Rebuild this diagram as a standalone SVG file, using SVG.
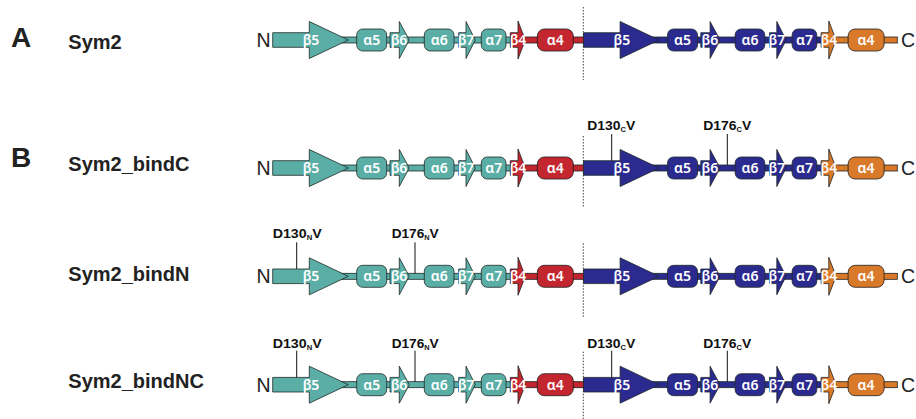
<svg xmlns="http://www.w3.org/2000/svg" width="916" height="419" viewBox="0 0 916 419">
<style>
.nh{--m:#5BAEA6;--e:#C3262E}
.ch{--m:#2B2A8E;--e:#D9792A}
.m{fill:var(--m);stroke:#1e2a2a;stroke-width:0.8}
.e{fill:var(--e);stroke:#1e1e1e;stroke-width:0.8}
.lb{font-family:"Noto Sans","Open Sans","DejaVu Sans",sans-serif;font-size:14px;font-weight:600;fill:#fff;text-anchor:middle}
.term{font-family:"Liberation Sans",Arial,sans-serif;font-size:19.5px;fill:#222}
.name{font-family:"Liberation Sans",Arial,sans-serif;font-size:20px;font-weight:bold;fill:#222}
.panel{font-family:"Liberation Sans",Arial,sans-serif;font-size:28px;font-weight:bold;fill:#222}
.mut{font-family:"Liberation Sans",Arial,sans-serif;font-size:13px;font-weight:bold;fill:#111}
.sub{font-size:7px}
.tick{stroke:#111;stroke-width:1}
.dot{stroke:#444;stroke-width:1;stroke-dasharray:1.5 1.5}
</style>

<g id="panel-labels">
<text class="panel" x="11" y="47">A</text>
<text class="panel" x="11" y="167">B</text>
</g>

<!-- Row A -->
<g id="row-sym2" transform="translate(0,40)">
<text class="name" x="68.3" y="9.3">Sym2</text>
<line class="dot" x1="583.3" y1="-33" x2="583.3" y2="40"/>
<text class="term" x="256.5" y="7">N</text>
<text class="term" x="901" y="7">C</text>
<g class="nh" id="sym2-N-half">
<rect class="m" x="330" y="-3" width="185" height="6"/>
<rect class="e" x="520" y="-3" width="64" height="6"/>
<polygon class="m" points="272.7,-7.3 309.3,-7.3 309.3,-18.5 348.3,0 309.3,18.5 309.3,7.3 272.7,7.3"/>
<rect class="m" x="356.7" y="-11" width="30" height="22" rx="6"/>
<polygon class="m" points="390,-7.3 399.3,-7.3 399.3,-18.5 409.3,0 399.3,18.5 399.3,7.3 390,7.3"/>
<rect class="m" x="424.3" y="-11" width="29.7" height="22" rx="6"/>
<polygon class="m" points="458.7,-7.3 466,-7.3 466,-18.5 475.3,0 466,18.5 466,7.3 458.7,7.3"/>
<rect class="m" x="481.3" y="-11" width="24.7" height="22" rx="6"/>
<polygon class="e" points="510.3,-7.3 518,-7.3 518,-19 525.3,0 518,19 518,7.3 510.3,7.3"/>
<rect class="e" x="537.3" y="-11" width="36" height="22" rx="7"/>
<text class="lb" x="311" y="5">β5</text><text class="lb" x="371.7" y="5">α5</text><text class="lb" x="399" y="5">β6</text><text class="lb" x="439.2" y="5">α6</text><text class="lb" x="466" y="5">β7</text><text class="lb" x="493.7" y="5">α7</text><text class="lb" x="518" y="5">β4</text><text class="lb" x="555.3" y="5">α4</text>
</g>
<g class="ch" id="sym2-C-half" transform="translate(310.8,0)">
<rect class="m" x="330" y="-3" width="185" height="6"/>
<rect class="e" x="520" y="-3" width="66.5" height="6"/>
<polygon class="m" points="272.7,-7.3 309.3,-7.3 309.3,-18.5 348.3,0 309.3,18.5 309.3,7.3 272.7,7.3"/>
<rect class="m" x="356.7" y="-11" width="30" height="22" rx="6"/>
<polygon class="m" points="390,-7.3 399.3,-7.3 399.3,-18.5 409.3,0 399.3,18.5 399.3,7.3 390,7.3"/>
<rect class="m" x="424.3" y="-11" width="29.7" height="22" rx="6"/>
<polygon class="m" points="458.7,-7.3 466,-7.3 466,-18.5 475.3,0 466,18.5 466,7.3 458.7,7.3"/>
<rect class="m" x="481.3" y="-11" width="24.7" height="22" rx="6"/>
<polygon class="e" points="510.3,-7.3 518,-7.3 518,-19 525.3,0 518,19 518,7.3 510.3,7.3"/>
<rect class="e" x="537.3" y="-11" width="36" height="22" rx="7"/>
<text class="lb" x="311" y="5">β5</text><text class="lb" x="371.7" y="5">α5</text><text class="lb" x="399" y="5">β6</text><text class="lb" x="439.2" y="5">α6</text><text class="lb" x="466" y="5">β7</text><text class="lb" x="493.7" y="5">α7</text><text class="lb" x="518" y="5">β4</text><text class="lb" x="555.3" y="5">α4</text>
</g>
</g>

<!-- Row B: bindC -->
<g id="row-bindC" transform="translate(0,168)">
<text class="name" x="68.3" y="3">Sym2_bindC</text>
<line class="dot" x1="583.3" y1="-32" x2="583.3" y2="39"/>
<text class="term" x="256.5" y="7">N</text>
<text class="term" x="901" y="7">C</text>
<g class="nh" id="bindC-N-half">
<rect class="m" x="330" y="-3" width="185" height="6"/>
<rect class="e" x="520" y="-3" width="64" height="6"/>
<polygon class="m" points="272.7,-7.3 309.3,-7.3 309.3,-18.5 348.3,0 309.3,18.5 309.3,7.3 272.7,7.3"/>
<rect class="m" x="356.7" y="-11" width="30" height="22" rx="6"/>
<polygon class="m" points="390,-7.3 399.3,-7.3 399.3,-18.5 409.3,0 399.3,18.5 399.3,7.3 390,7.3"/>
<rect class="m" x="424.3" y="-11" width="29.7" height="22" rx="6"/>
<polygon class="m" points="458.7,-7.3 466,-7.3 466,-18.5 475.3,0 466,18.5 466,7.3 458.7,7.3"/>
<rect class="m" x="481.3" y="-11" width="24.7" height="22" rx="6"/>
<polygon class="e" points="510.3,-7.3 518,-7.3 518,-19 525.3,0 518,19 518,7.3 510.3,7.3"/>
<rect class="e" x="537.3" y="-11" width="36" height="22" rx="7"/>
<text class="lb" x="311" y="5">β5</text><text class="lb" x="371.7" y="5">α5</text><text class="lb" x="399" y="5">β6</text><text class="lb" x="439.2" y="5">α6</text><text class="lb" x="466" y="5">β7</text><text class="lb" x="493.7" y="5">α7</text><text class="lb" x="518" y="5">β4</text><text class="lb" x="555.3" y="5">α4</text>
</g>
<g class="ch" id="bindC-C-half" transform="translate(310.8,0)">
<rect class="m" x="330" y="-3" width="185" height="6"/>
<rect class="e" x="520" y="-3" width="66.5" height="6"/>
<polygon class="m" points="272.7,-7.3 309.3,-7.3 309.3,-18.5 348.3,0 309.3,18.5 309.3,7.3 272.7,7.3"/>
<rect class="m" x="356.7" y="-11" width="30" height="22" rx="6"/>
<polygon class="m" points="390,-7.3 399.3,-7.3 399.3,-18.5 409.3,0 399.3,18.5 399.3,7.3 390,7.3"/>
<rect class="m" x="424.3" y="-11" width="29.7" height="22" rx="6"/>
<polygon class="m" points="458.7,-7.3 466,-7.3 466,-18.5 475.3,0 466,18.5 466,7.3 458.7,7.3"/>
<rect class="m" x="481.3" y="-11" width="24.7" height="22" rx="6"/>
<polygon class="e" points="510.3,-7.3 518,-7.3 518,-19 525.3,0 518,19 518,7.3 510.3,7.3"/>
<rect class="e" x="537.3" y="-11" width="36" height="22" rx="7"/>
<text class="lb" x="311" y="5">β5</text><text class="lb" x="371.7" y="5">α5</text><text class="lb" x="399" y="5">β6</text><text class="lb" x="439.2" y="5">α6</text><text class="lb" x="466" y="5">β7</text><text class="lb" x="493.7" y="5">α7</text><text class="lb" x="518" y="5">β4</text><text class="lb" x="555.3" y="5">α4</text>
</g>
<g id="bindC-mutations">
<line class="tick" x1="611.7" y1="-34" x2="611.7" y2="-7.3"/>
<line class="tick" x1="727.3" y1="-34" x2="727.3" y2="-3"/>
<text class="mut" x="587.3" y="-38.5" textLength="48" lengthAdjust="spacingAndGlyphs">D130<tspan class="sub" dy="2">C</tspan><tspan dy="-2">V</tspan></text>
<text class="mut" x="703.3" y="-38.5" textLength="48" lengthAdjust="spacingAndGlyphs">D176<tspan class="sub" dy="2">C</tspan><tspan dy="-2">V</tspan></text>
</g>
</g>

<!-- Row C: bindN -->
<g id="row-bindN" transform="translate(0,276.3)">
<text class="name" x="68.3" y="4.7">Sym2_bindN</text>
<line class="dot" x1="583.3" y1="-33" x2="583.3" y2="40.5"/>
<text class="term" x="256.5" y="7">N</text>
<text class="term" x="901" y="7">C</text>
<g class="nh" id="bindN-N-half">
<rect class="m" x="330" y="-3" width="185" height="6"/>
<rect class="e" x="520" y="-3" width="64" height="6"/>
<polygon class="m" points="272.7,-7.3 309.3,-7.3 309.3,-18.5 348.3,0 309.3,18.5 309.3,7.3 272.7,7.3"/>
<rect class="m" x="356.7" y="-11" width="30" height="22" rx="6"/>
<polygon class="m" points="390,-7.3 399.3,-7.3 399.3,-18.5 409.3,0 399.3,18.5 399.3,7.3 390,7.3"/>
<rect class="m" x="424.3" y="-11" width="29.7" height="22" rx="6"/>
<polygon class="m" points="458.7,-7.3 466,-7.3 466,-18.5 475.3,0 466,18.5 466,7.3 458.7,7.3"/>
<rect class="m" x="481.3" y="-11" width="24.7" height="22" rx="6"/>
<polygon class="e" points="510.3,-7.3 518,-7.3 518,-19 525.3,0 518,19 518,7.3 510.3,7.3"/>
<rect class="e" x="537.3" y="-11" width="36" height="22" rx="7"/>
<text class="lb" x="311" y="5">β5</text><text class="lb" x="371.7" y="5">α5</text><text class="lb" x="399" y="5">β6</text><text class="lb" x="439.2" y="5">α6</text><text class="lb" x="466" y="5">β7</text><text class="lb" x="493.7" y="5">α7</text><text class="lb" x="518" y="5">β4</text><text class="lb" x="555.3" y="5">α4</text>
</g>
<g class="ch" id="bindN-C-half" transform="translate(310.8,0)">
<rect class="m" x="330" y="-3" width="185" height="6"/>
<rect class="e" x="520" y="-3" width="66.5" height="6"/>
<polygon class="m" points="272.7,-7.3 309.3,-7.3 309.3,-18.5 348.3,0 309.3,18.5 309.3,7.3 272.7,7.3"/>
<rect class="m" x="356.7" y="-11" width="30" height="22" rx="6"/>
<polygon class="m" points="390,-7.3 399.3,-7.3 399.3,-18.5 409.3,0 399.3,18.5 399.3,7.3 390,7.3"/>
<rect class="m" x="424.3" y="-11" width="29.7" height="22" rx="6"/>
<polygon class="m" points="458.7,-7.3 466,-7.3 466,-18.5 475.3,0 466,18.5 466,7.3 458.7,7.3"/>
<rect class="m" x="481.3" y="-11" width="24.7" height="22" rx="6"/>
<polygon class="e" points="510.3,-7.3 518,-7.3 518,-19 525.3,0 518,19 518,7.3 510.3,7.3"/>
<rect class="e" x="537.3" y="-11" width="36" height="22" rx="7"/>
<text class="lb" x="311" y="5">β5</text><text class="lb" x="371.7" y="5">α5</text><text class="lb" x="399" y="5">β6</text><text class="lb" x="439.2" y="5">α6</text><text class="lb" x="466" y="5">β7</text><text class="lb" x="493.7" y="5">α7</text><text class="lb" x="518" y="5">β4</text><text class="lb" x="555.3" y="5">α4</text>
</g>
<g id="bindN-mutations">
<line class="tick" x1="296.7" y1="-34" x2="296.7" y2="-7.3"/>
<line class="tick" x1="415" y1="-34" x2="415" y2="-3"/>
<text class="mut" x="272.7" y="-38" textLength="49" lengthAdjust="spacingAndGlyphs">D130<tspan class="sub" dy="2">N</tspan><tspan dy="-2">V</tspan></text>
<text class="mut" x="391.7" y="-38" textLength="47" lengthAdjust="spacingAndGlyphs">D176<tspan class="sub" dy="2">N</tspan><tspan dy="-2">V</tspan></text>
</g>
</g>

<!-- Row D: bindNC -->
<g id="row-bindNC" transform="translate(0,384.7)">
<text class="name" x="68.3" y="3">Sym2_bindNC</text>
<line class="dot" x1="583.3" y1="-33" x2="583.3" y2="40"/>
<text class="term" x="256.5" y="7">N</text>
<text class="term" x="901" y="7">C</text>
<g class="nh" id="bindNC-N-half">
<rect class="m" x="330" y="-3" width="185" height="6"/>
<rect class="e" x="520" y="-3" width="64" height="6"/>
<polygon class="m" points="272.7,-7.3 309.3,-7.3 309.3,-18.5 348.3,0 309.3,18.5 309.3,7.3 272.7,7.3"/>
<rect class="m" x="356.7" y="-11" width="30" height="22" rx="6"/>
<polygon class="m" points="390,-7.3 399.3,-7.3 399.3,-18.5 409.3,0 399.3,18.5 399.3,7.3 390,7.3"/>
<rect class="m" x="424.3" y="-11" width="29.7" height="22" rx="6"/>
<polygon class="m" points="458.7,-7.3 466,-7.3 466,-18.5 475.3,0 466,18.5 466,7.3 458.7,7.3"/>
<rect class="m" x="481.3" y="-11" width="24.7" height="22" rx="6"/>
<polygon class="e" points="510.3,-7.3 518,-7.3 518,-19 525.3,0 518,19 518,7.3 510.3,7.3"/>
<rect class="e" x="537.3" y="-11" width="36" height="22" rx="7"/>
<text class="lb" x="311" y="5">β5</text><text class="lb" x="371.7" y="5">α5</text><text class="lb" x="399" y="5">β6</text><text class="lb" x="439.2" y="5">α6</text><text class="lb" x="466" y="5">β7</text><text class="lb" x="493.7" y="5">α7</text><text class="lb" x="518" y="5">β4</text><text class="lb" x="555.3" y="5">α4</text>
</g>
<g class="ch" id="bindNC-C-half" transform="translate(310.8,0)">
<rect class="m" x="330" y="-3" width="185" height="6"/>
<rect class="e" x="520" y="-3" width="66.5" height="6"/>
<polygon class="m" points="272.7,-7.3 309.3,-7.3 309.3,-18.5 348.3,0 309.3,18.5 309.3,7.3 272.7,7.3"/>
<rect class="m" x="356.7" y="-11" width="30" height="22" rx="6"/>
<polygon class="m" points="390,-7.3 399.3,-7.3 399.3,-18.5 409.3,0 399.3,18.5 399.3,7.3 390,7.3"/>
<rect class="m" x="424.3" y="-11" width="29.7" height="22" rx="6"/>
<polygon class="m" points="458.7,-7.3 466,-7.3 466,-18.5 475.3,0 466,18.5 466,7.3 458.7,7.3"/>
<rect class="m" x="481.3" y="-11" width="24.7" height="22" rx="6"/>
<polygon class="e" points="510.3,-7.3 518,-7.3 518,-19 525.3,0 518,19 518,7.3 510.3,7.3"/>
<rect class="e" x="537.3" y="-11" width="36" height="22" rx="7"/>
<text class="lb" x="311" y="5">β5</text><text class="lb" x="371.7" y="5">α5</text><text class="lb" x="399" y="5">β6</text><text class="lb" x="439.2" y="5">α6</text><text class="lb" x="466" y="5">β7</text><text class="lb" x="493.7" y="5">α7</text><text class="lb" x="518" y="5">β4</text><text class="lb" x="555.3" y="5">α4</text>
</g>
<g id="bindNC-mutations">
<line class="tick" x1="296.7" y1="-34" x2="296.7" y2="-7.3"/>
<line class="tick" x1="415" y1="-34" x2="415" y2="-3"/>
<line class="tick" x1="611.7" y1="-34" x2="611.7" y2="-7.3"/>
<line class="tick" x1="727.3" y1="-34" x2="727.3" y2="-3"/>
<text class="mut" x="272.7" y="-37" textLength="49" lengthAdjust="spacingAndGlyphs">D130<tspan class="sub" dy="2">N</tspan><tspan dy="-2">V</tspan></text>
<text class="mut" x="391.7" y="-37" textLength="47" lengthAdjust="spacingAndGlyphs">D176<tspan class="sub" dy="2">N</tspan><tspan dy="-2">V</tspan></text>
<text class="mut" x="587.3" y="-37" textLength="48" lengthAdjust="spacingAndGlyphs">D130<tspan class="sub" dy="2">C</tspan><tspan dy="-2">V</tspan></text>
<text class="mut" x="703.3" y="-37" textLength="48" lengthAdjust="spacingAndGlyphs">D176<tspan class="sub" dy="2">C</tspan><tspan dy="-2">V</tspan></text>
</g>
</g>
</svg>
